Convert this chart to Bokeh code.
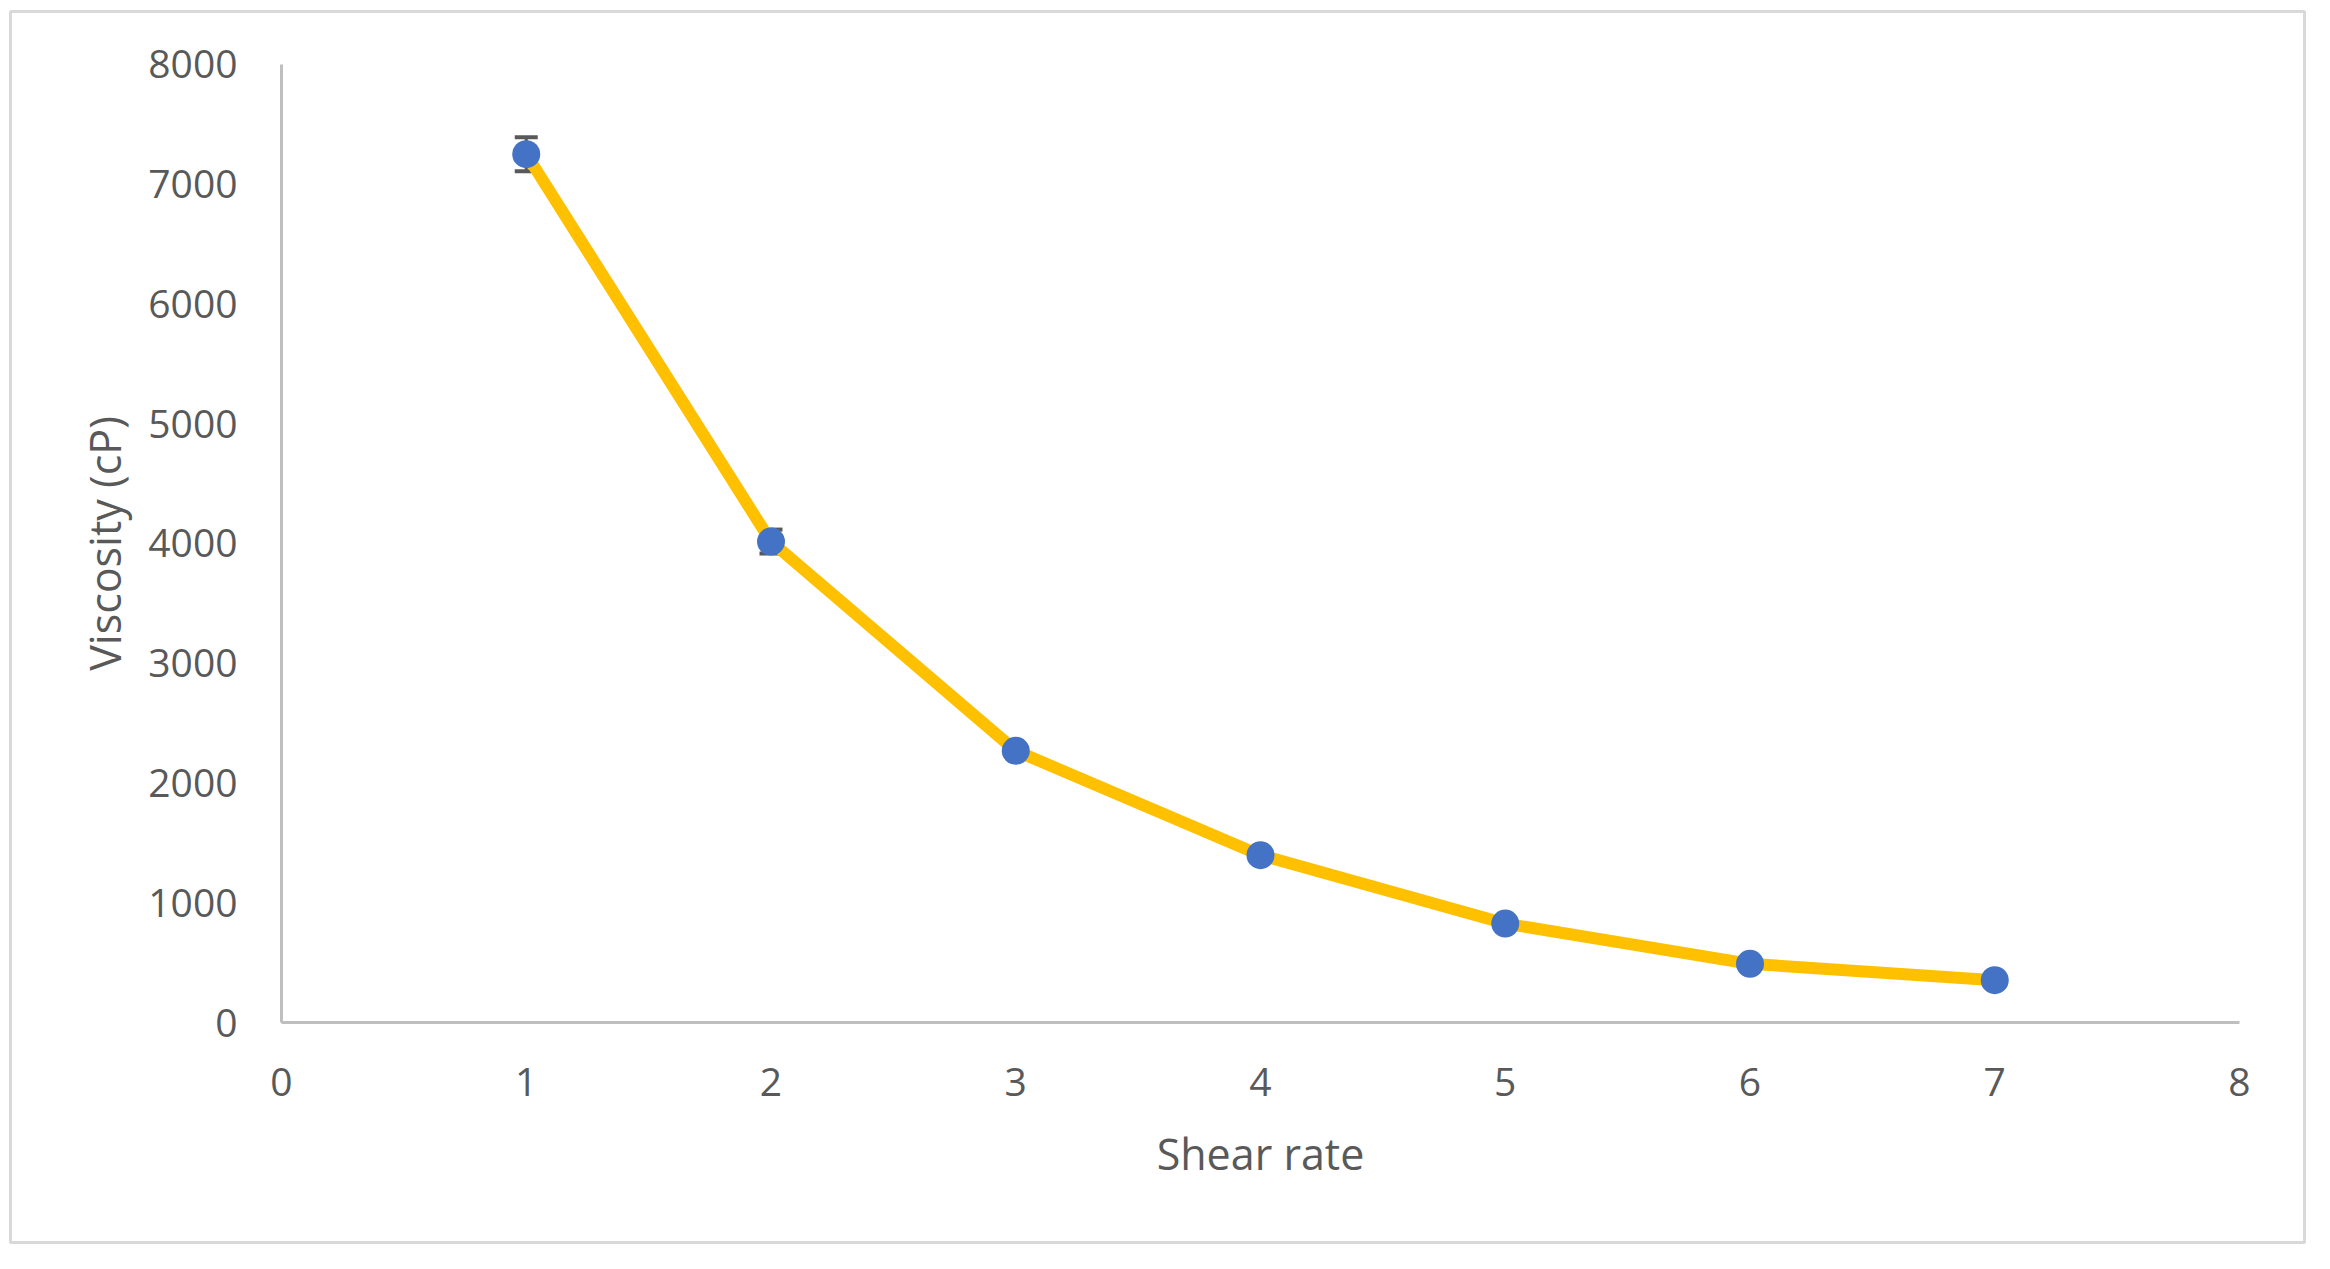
from bokeh.plotting import figure
from bokeh.models import Range1d, SingleIntervalTicker, Whisker, TeeHead, ColumnDataSource
from bokeh.embed import file_html
from bokeh.resources import INLINE

# ---- data ----
shear_rate = [1, 2, 3, 4, 5, 6, 7]
viscosity = [7249, 4015, 2268, 1397, 826, 490, 353]
viscosity_err = [142, 100, 0, 0, 0, 0, 0]
x_title = "Shear rate"
y_title = "Viscosity (cP)"
x_axis_min, x_axis_max = 0, 8
y_axis_min, y_axis_max = 0, 8000

TEXT = "#595959"
FONT = "Open Sans"

src = ColumnDataSource(dict(
    x=shear_rate,
    y=viscosity,
    upper=[v + e for v, e in zip(viscosity, viscosity_err)],
    lower=[v - e for v, e in zip(viscosity, viscosity_err)],
))

# ---- layout (canvas pixels) ----
W, H = 2314, 1253
FL, FR, FT, FB = 10, 2304, 11, 1242          # frame = chart-area border
AX_L, AX_R, AX_T, AX_B = 281, 2239, 63.7, 1022  # axis box inside the frame

xs = (AX_R - AX_L) / (x_axis_max - x_axis_min)
ys = (AX_B - AX_T) / (y_axis_max - y_axis_min)
x_range = Range1d(x_axis_min - (AX_L - FL) / xs, x_axis_max + (FR - AX_R) / xs)
y_range = Range1d(y_axis_min - (FB - AX_B) / ys, y_axis_max + (AX_T - FT) / ys)

p = figure(
    width=W, height=H, x_range=x_range, y_range=y_range,
    output_backend="svg", toolbar_location=None,
    min_border_left=FL, min_border_right=W - FR,
    min_border_top=FT, min_border_bottom=H - FB,
)
p.background_fill_color = "white"
p.border_fill_color = "white"
p.outline_line_color = "#D9D9D9"
p.outline_line_width = 3
p.xgrid.visible = False
p.ygrid.visible = False

p.xaxis.ticker = SingleIntervalTicker(interval=1)
p.yaxis.ticker = SingleIntervalTicker(interval=1000)
p.xaxis.fixed_location = y_axis_min
p.yaxis.fixed_location = x_axis_min
p.xaxis.bounds = (x_axis_min, x_axis_max)
p.yaxis.bounds = (y_axis_min, y_axis_max)

for ax in (p.xaxis, p.yaxis):
    ax.axis_line_color = "#BFBFBF"
    ax.axis_line_width = 3
    ax.major_tick_line_color = None
    ax.minor_tick_line_color = None
    ax.major_tick_out = 0
    ax.major_tick_in = 0
    ax.major_label_text_font = FONT
    ax.major_label_text_font_size = "39px"
    ax.major_label_text_color = TEXT
    ax.axis_label_text_font = FONT
    ax.axis_label_text_font_size = "43px"
    ax.axis_label_text_font_style = "normal"
    ax.axis_label_text_color = TEXT

p.xaxis.axis_label = x_title
p.yaxis.axis_label = y_title
p.xaxis.major_label_standoff = 41
p.yaxis.major_label_standoff = 40
p.xaxis.axis_label_standoff = 25
p.yaxis.axis_label_standoff = 11

whisk = Whisker(
    base="x", upper="upper", lower="lower", source=src, level="underlay",
    line_color=TEXT, line_width=3,
    upper_head=TeeHead(size=23, line_color=TEXT, line_width=4),
    lower_head=TeeHead(size=23, line_color=TEXT, line_width=4),
)
p.add_layout(whisk)

p.line("x", "y", source=src, line_color="#FFC000", line_width=12, line_join="round")
p.scatter("x", "y", source=src, size=28, fill_color="#4472C4", line_color="#4472C4", line_width=0)

open("out.html", "w").write(file_html(p, INLINE))
